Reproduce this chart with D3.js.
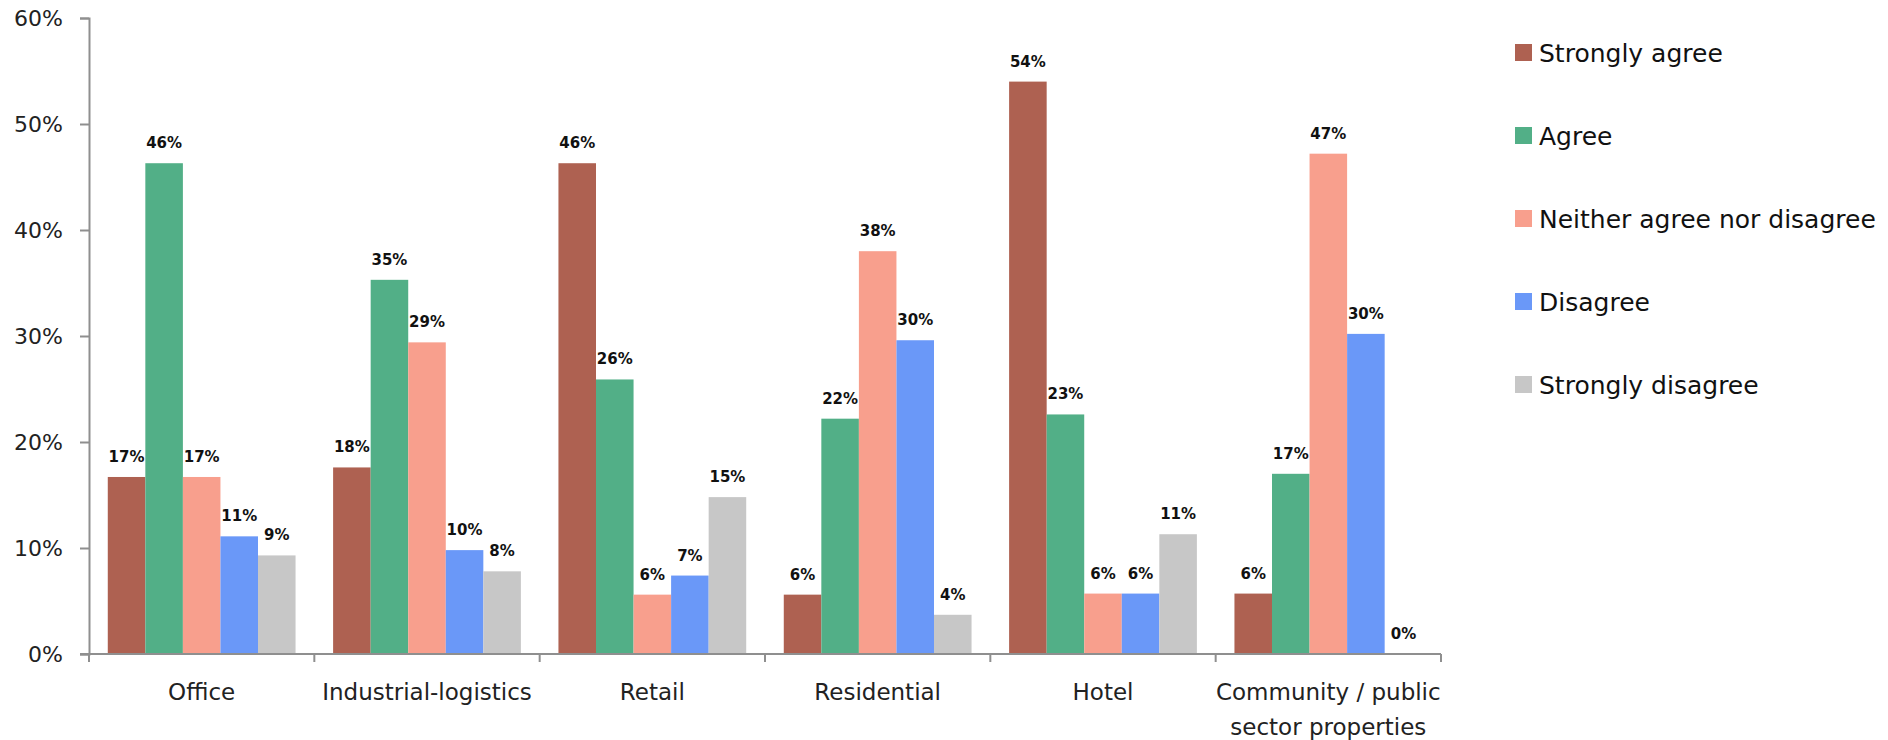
<!DOCTYPE html>
<html>
<head>
<meta charset="utf-8">
<script src="https://cdn.jsdelivr.net/npm/d3@7"></script>
<style>
  html, body { margin: 0; padding: 0; background: #ffffff; }
  svg { display: block; }
</style>
</head>
<body>
<svg id="chart" width="1888" height="740"></svg>
<script>
// Property sectors (x categories); "\n" splits a label over two lines
const categories = [
  "Office",
  "Industrial-logistics",
  "Retail",
  "Residential",
  "Hotel",
  "Community / public\nsector properties"
];

// Response options (series)
const seriesNames = [
  "Strongly agree",
  "Agree",
  "Neither agree nor disagree",
  "Disagree",
  "Strongly disagree"
];

// Share of respondents per sector, one array per response option
const stronglyAgree    = [0.167, 0.176, 0.463, 0.056, 0.540, 0.057];
const agree            = [0.463, 0.353, 0.259, 0.222, 0.226, 0.170];
const neither          = [0.167, 0.294, 0.056, 0.380, 0.057, 0.472];
const disagree         = [0.111, 0.098, 0.074, 0.296, 0.057, 0.302];
const stronglyDisagree = [0.093, 0.078, 0.148, 0.037, 0.113, 0.000];

const yTicks = [0, 0.1, 0.2, 0.3, 0.4, 0.5, 0.6];

const seriesValues = [stronglyAgree, agree, neither, disagree, stronglyDisagree];
const colors = ["#ae6151", "#52af87", "#f89f8d", "#6a98f8", "#c7c7c7"];

const svg = d3.select("#chart");
const plot = { left: 89, right: 1441, top: 18, bottom: 654 };

const x = d3.scaleBand()
  .domain(categories)
  .range([plot.left, plot.right])
  .paddingInner(0)
  .paddingOuter(0);

const xInner = d3.scaleBand()
  .domain(seriesNames)
  .range([0, x.bandwidth()])
  .paddingInner(0)
  .paddingOuter(0.5);

const y = d3.scaleLinear()
  .domain([0, 0.6])
  .range([plot.bottom, plot.top]);

const axisColor = "#8f8f8f";
const pct = d3.format(".0%");

// Bars
const groups = svg.append("g")
  .selectAll("g")
  .data(categories)
  .join("g")
  .attr("transform", d => `translate(${x(d)},0)`);

const cells = groups.selectAll("g.cell")
  .data((c, ci) => seriesNames.map((s, si) => ({ series: s, si, value: seriesValues[si][ci] })))
  .join("g")
  .attr("class", "cell");

cells.append("rect")
  .attr("x", d => xInner(d.series))
  .attr("y", d => y(d.value))
  .attr("width", xInner.bandwidth())
  .attr("height", d => y(0) - y(d.value))
  .attr("fill", d => colors[d.si]);

cells.append("text")
  .attr("x", d => xInner(d.series) + xInner.bandwidth() / 2)
  .attr("y", d => y(d.value) - 15)
  .attr("text-anchor", "middle")
  .attr("font-family", "DejaVu Sans")
  .attr("font-weight", "bold")
  .attr("font-size", 15)
  .attr("fill", "#111")
  .text(d => pct(d.value));

// Y axis
const yAxis = svg.append("g")
  .attr("transform", `translate(${plot.left},0)`)
  .call(d3.axisLeft(y).tickValues(yTicks).tickFormat(pct).tickSize(9).tickPadding(17));
yAxis.select(".domain").attr("stroke", axisColor).attr("stroke-width", 2);
yAxis.selectAll(".tick line").attr("stroke", axisColor).attr("stroke-width", 2);
yAxis.selectAll(".tick text")
  .attr("font-family", "DejaVu Sans")
  .attr("font-size", 22)
  .attr("fill", "#222");

// X axis: boundary ticks between categories
const boundaries = categories.map(c => x(c)).concat([x(categories[categories.length - 1]) + x.bandwidth()]);
const xAxisG = svg.append("g");
xAxisG.append("line")
  .attr("x1", plot.left - 9).attr("x2", plot.right)
  .attr("y1", plot.bottom).attr("y2", plot.bottom)
  .attr("stroke", axisColor).attr("stroke-width", 2);
xAxisG.selectAll("line.bt")
  .data(boundaries)
  .join("line")
  .attr("class", "bt")
  .attr("x1", d => d).attr("x2", d => d)
  .attr("y1", plot.bottom).attr("y2", plot.bottom + 8)
  .attr("stroke", axisColor).attr("stroke-width", 2);

const catLabels = xAxisG.selectAll("text")
  .data(categories)
  .join("text")
  .attr("x", d => x(d) + x.bandwidth() / 2)
  .attr("y", 700)
  .attr("text-anchor", "middle")
  .attr("font-family", "DejaVu Sans")
  .attr("font-size", 23)
  .attr("fill", "#222");
catLabels.each(function(d) {
  const lines = d.split("\n");
  const t = d3.select(this);
  lines.forEach((ln, i) => {
    t.append("tspan")
      .attr("x", x(d) + x.bandwidth() / 2)
      .attr("dy", i === 0 ? 0 : 35)
      .text(ln);
  });
});

// Legend
const legend = svg.append("g").attr("transform", "translate(1515,44)");
const items = legend.selectAll("g")
  .data(seriesNames)
  .join("g")
  .attr("transform", (d, i) => `translate(0,${i * 83})`);
items.append("rect")
  .attr("width", 17).attr("height", 17)
  .attr("fill", (d, i) => colors[i]);
items.append("text")
  .attr("x", 24)
  .attr("y", 17.5)
  .attr("font-family", "DejaVu Sans")
  .attr("font-size", 25)
  .attr("fill", "#111")
  .text(d => d);
</script>
</body>
</html>
